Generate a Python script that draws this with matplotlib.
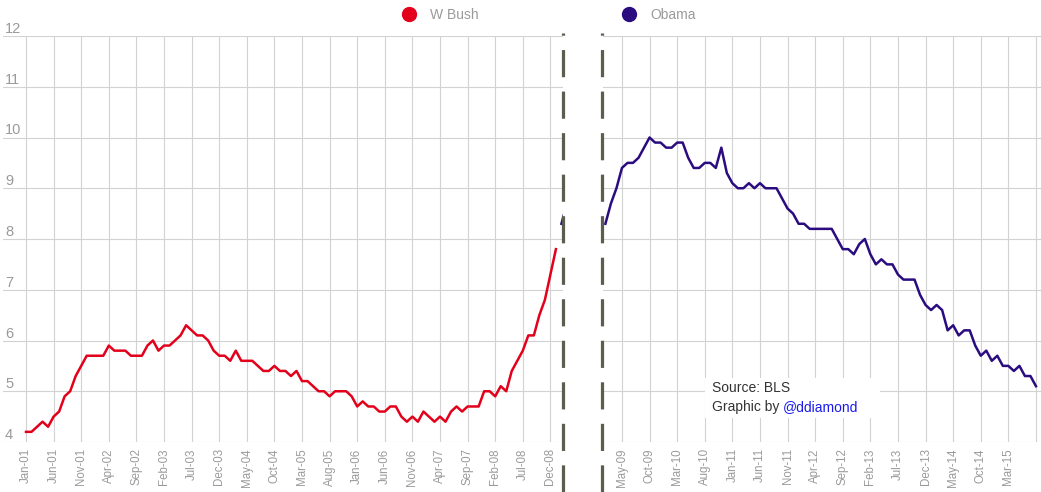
import numpy as np
import matplotlib
matplotlib.use("Agg")
import matplotlib.pyplot as plt
from matplotlib.lines import Line2D
from matplotlib.patches import Rectangle
from matplotlib.text import Annotation

# ---- data: monthly unemployment rate (%), BLS ----
# W Bush: Jan 2001 .. Jan 2009
bush_rate = [
    4.2, 4.2, 4.3, 4.4, 4.3, 4.5, 4.6, 4.9, 5.0, 5.3, 5.5, 5.7,   # 2001
    5.7, 5.7, 5.7, 5.9, 5.8, 5.8, 5.8, 5.7, 5.7, 5.7, 5.9, 6.0,   # 2002
    5.8, 5.9, 5.9, 6.0, 6.1, 6.3, 6.2, 6.1, 6.1, 6.0, 5.8, 5.7,   # 2003
    5.7, 5.6, 5.8, 5.6, 5.6, 5.6, 5.5, 5.4, 5.4, 5.5, 5.4, 5.4,   # 2004
    5.3, 5.4, 5.2, 5.2, 5.1, 5.0, 5.0, 4.9, 5.0, 5.0, 5.0, 4.9,   # 2005
    4.7, 4.8, 4.7, 4.7, 4.6, 4.6, 4.7, 4.7, 4.5, 4.4, 4.5, 4.4,   # 2006
    4.6, 4.5, 4.4, 4.5, 4.4, 4.6, 4.7, 4.6, 4.7, 4.7, 4.7, 5.0,   # 2007
    5.0, 4.9, 5.1, 5.0, 5.4, 5.6, 5.8, 6.1, 6.1, 6.5, 6.8, 7.3,   # 2008
    7.8,                                                          # Jan 2009
]
# Obama: Feb 2009 .. Aug 2015
obama_rate = [
    8.3, 8.7, 9.0, 9.4, 9.5, 9.5, 9.6, 9.8, 10.0, 9.9, 9.9,       # 2009
    9.8, 9.8, 9.9, 9.9, 9.6, 9.4, 9.4, 9.5, 9.5, 9.4, 9.8, 9.3,   # 2010
    9.1, 9.0, 9.0, 9.1, 9.0, 9.1, 9.0, 9.0, 9.0, 8.8, 8.6, 8.5,   # 2011
    8.3, 8.3, 8.2, 8.2, 8.2, 8.2, 8.2, 8.0, 7.8, 7.8, 7.7, 7.9,   # 2012
    8.0, 7.7, 7.5, 7.6, 7.5, 7.5, 7.3, 7.2, 7.2, 7.2, 6.9, 6.7,   # 2013
    6.6, 6.7, 6.6, 6.2, 6.3, 6.1, 6.2, 6.2, 5.9, 5.7, 5.8, 5.6,   # 2014
    5.7, 5.5, 5.5, 5.4, 5.5, 5.3, 5.3, 5.1,                       # 2015
]
series_names = ["W Bush", "Obama"]

left_tick_labels = ["Jan-01", "Jun-01", "Nov-01", "Apr-02", "Sep-02", "Feb-03", "Jul-03",
                    "Dec-03", "May-04", "Oct-04", "Mar-05", "Aug-05", "Jan-06", "Jun-06",
                    "Nov-06", "Apr-07", "Sep-07", "Feb-08", "Jul-08", "Dec-08"]
right_tick_labels = ["May-09", "Oct-09", "Mar-10", "Aug-10", "Jan-11", "Jun-11", "Nov-11",
                     "Apr-12", "Sep-12", "Feb-13", "Jul-13", "Dec-13", "May-14", "Oct-14",
                     "Mar-15", ""]
y_ticks = [4, 5, 6, 7, 8, 9, 10, 11, 12]

# ---- styling ----
RED = "#e3001b"
BLUE = "#2b0c80"
GRID = "#d2d2d2"
LABEL = "#9a9a9a"
DASH = "#5b5d4f"
FONT = ["Liberation Sans", "DejaVu Sans"]

W, H = 1041, 492
fig = plt.figure(figsize=(W / 100, H / 100), dpi=100)
fig.patch.set_facecolor("white")

bush_x = np.arange(len(bush_rate))
obama_x = np.arange(len(bush_rate), len(bush_rate) + len(obama_rate))

pxm = 5.52  # pixels per month
ax_l = fig.add_axes([3 / W, 50 / H, 560 / W, 406 / H])
ax_r = fig.add_axes([603 / W, 50 / H, 438 / W, 406 / H])

l0 = -23 / pxm
r0 = 97 - 2.4 / pxm
ax_l.set_xlim(l0, l0 + 560 / pxm)
ax_r.set_xlim(r0, r0 + 438 / pxm)

left_ticks = np.arange(0, 5 * len(left_tick_labels), 5)
right_ticks = np.arange(100, 100 + 5 * len(right_tick_labels), 5)

for ax, ticks, labels in [(ax_l, left_ticks, left_tick_labels), (ax_r, right_ticks, right_tick_labels)]:
    ax.plot(bush_x, bush_rate, color=RED, lw=1.8, solid_joinstyle="round", label=series_names[0], zorder=3)
    ax.plot(obama_x, obama_rate, color=BLUE, lw=1.8, solid_joinstyle="round", label=series_names[1], zorder=3)
    ax.set_ylim(4, 12)
    ax.set_yticks(y_ticks)
    ax.set_xticks(ticks)
    ax.set_xticklabels(labels, rotation=90, fontfamily=FONT, fontsize=8.3, color=LABEL)
    ax.tick_params(axis="x", length=0, pad=4.5)
    ax.grid(True, color=GRID, lw=0.8, zorder=0)
    ax.set_axisbelow(True)
    for s in ax.spines.values():
        s.set_visible(False)
    ax.set_facecolor("none")

ax_l.tick_params(axis="y", length=0, pad=-1.5)
ax_l.set_yticklabels([str(v) for v in y_ticks], fontfamily=FONT, fontsize=10.5, color=LABEL)
for lab in ax_l.get_yticklabels():
    lab.set_horizontalalignment("left")
    lab.set_verticalalignment("bottom")
ax_r.tick_params(axis="y", length=0, labelleft=False)

# dashed separators at the panel edges
for xpx in (563, 602):
    fig.add_artist(Line2D([xpx / W, xpx / W], [0, 1 - 33 / H], transform=fig.transFigure,
                          color=DASH, lw=2.3, linestyle=(0, (8.5, 4.5)), zorder=5))

# legend (one entry each, placed at the reference positions)
for name, col, x0 in [(series_names[0], RED, 403.4), (series_names[1], BLUE, 623.4)]:
    h = Line2D([], [], ls="none", marker="o", ms=10, color=col)
    leg = fig.legend([h], [name], loc="center left", bbox_to_anchor=(x0 / W, 1 - 15 / H),
                     frameon=False, handlelength=0.8, handletextpad=1.12, borderpad=0,
                     borderaxespad=0, prop={"family": FONT, "size": 10})
    for t in leg.get_texts():
        t.set_color(LABEL)

# source box
fig.add_artist(Rectangle((705 / W, 1 - 418 / H), 175 / W, 40 / H, transform=fig.transFigure,
                         facecolor="white", edgecolor="none", zorder=4))
fig.text(712 / W, 1 - 388 / H, "Source: BLS", fontfamily=FONT,
         fontsize=10, color="#333333", va="center", ha="left", zorder=6)
t2 = fig.text(712 / W, 1 - 407 / H, "Graphic by ", fontfamily=FONT,
              fontsize=10, color="#333333", va="center", ha="left", zorder=6)
fig.add_artist(Annotation("@ddiamond", xy=(1, 0.5), xycoords=t2, va="center", ha="left",
                          fontfamily=FONT, fontsize=10, color="#1a1aee", zorder=6))

fig.savefig("out.png", dpi=100, facecolor="white")
